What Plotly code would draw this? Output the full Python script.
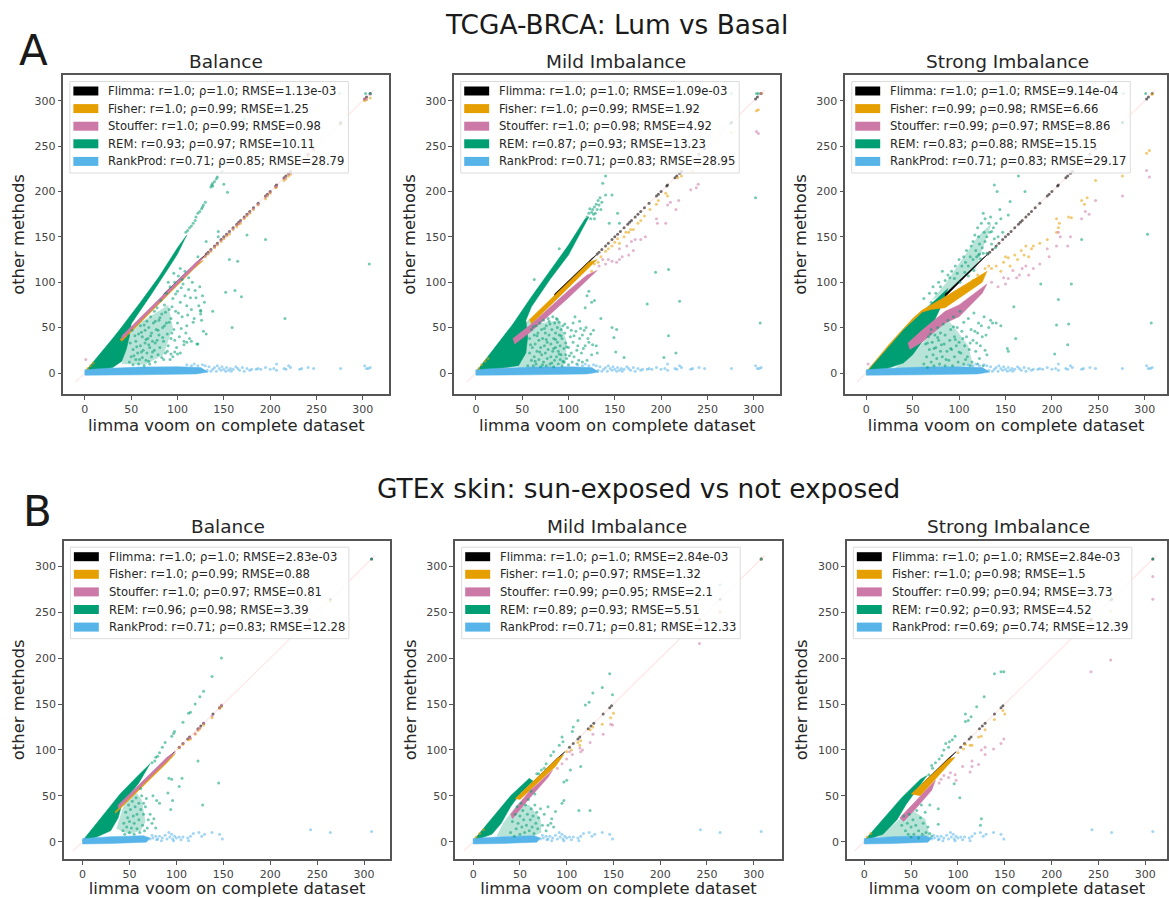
import plotly.graph_objects as go

WIDTH, HEIGHT = 1169, 898
COLORS = {"Flimma": "#000000", "Fisher": "#E69F00", "Stouffer": "#CC79A7", "REM": "#009E73", "RankProd": "#56B4E9"}
METHODS = ["Flimma", "Fisher", "Stouffer", "REM", "RankProd"]
DENSE_ORDER = ["REM", "Flimma", "Fisher", "Stouffer", "RankProd"]
X_TICKS = [0, 50, 100, 150, 200, 250, 300]
Y_TICKS = [0, 50, 100, 150, 200, 250, 300]

LEG_A1 = ["r=1.0; ρ=1.0; RMSE=1.13e-03", "r=1.0; ρ=0.99; RMSE=1.25", "r=1.0; ρ=0.99; RMSE=0.98", "r=0.93; ρ=0.97; RMSE=10.11", "r=0.71; ρ=0.85; RMSE=28.79"]
LEG_A2 = ["r=1.0; ρ=1.0; RMSE=1.09e-03", "r=1.0; ρ=0.99; RMSE=1.92", "r=1.0; ρ=0.98; RMSE=4.92", "r=0.87; ρ=0.93; RMSE=13.23", "r=0.71; ρ=0.83; RMSE=28.95"]
LEG_A3 = ["r=1.0; ρ=1.0; RMSE=9.14e-04", "r=0.99; ρ=0.98; RMSE=6.66", "r=0.99; ρ=0.97; RMSE=8.86", "r=0.83; ρ=0.88; RMSE=15.15", "r=0.71; ρ=0.83; RMSE=29.17"]
LEG_B1 = ["r=1.0; ρ=1.0; RMSE=2.83e-03", "r=1.0; ρ=0.99; RMSE=0.88", "r=1.0; ρ=0.97; RMSE=0.81", "r=0.96; ρ=0.98; RMSE=3.39", "r=0.71; ρ=0.83; RMSE=12.28"]
LEG_B2 = ["r=1.0; ρ=1.0; RMSE=2.84e-03", "r=1.0; ρ=0.97; RMSE=1.32", "r=0.99; ρ=0.95; RMSE=2.1", "r=0.89; ρ=0.93; RMSE=5.51", "r=0.71; ρ=0.81; RMSE=12.33"]
LEG_B3 = ["r=1.0; ρ=1.0; RMSE=2.84e-03", "r=1.0; ρ=0.98; RMSE=1.5", "r=0.99; ρ=0.94; RMSE=3.73", "r=0.92; ρ=0.93; RMSE=4.52", "r=0.69; ρ=0.74; RMSE=12.39"]

# ---- values: (limma voom, other method) ----
# "DENSE" = outline of an area where the dots merge into a solid mass
# "HAZE"  = outline of an area where the dots are thick but still separate
FLIMMA_A_DENSE = [(85, 84), (125, 124), (130, 130), (125, 126), (85, 87)]
FLIMMA_A = [(308, 308), (304, 304), (302, 302), (276, 276), (247, 247), (241, 241), (234, 234), (222, 222), (220, 220), (217, 217), (215, 215), (207, 207), (206, 206), (200, 200), (197, 197), (195, 195), (187, 187), (182, 182), (178, 178), (175, 175), (172, 172), (168, 168), (166, 166), (164, 164), (160, 160), (156, 156), (153, 153), (150, 150), (147, 147), (143, 143), (140, 140), (136, 136), (133, 133), (131, 131)]
RANK_A_DENSE = [(0, -2.5), (0, 3.5), (20, 5), (60, 6.5), (100, 7), (125, 6), (133, 1), (120, -1), (60, -2)]
RANK_A = [(130, 8), (132, 3), (134, 7), (136, 2), (138, 4), (140, 6), (142, 2), (143, 8), (145, 5), (147, 3), (148, 7), (150, 4), (152, 2), (153, 6), (155, 3), (157, 5), (158, 2), (160, 4), (163, 7), (165, 5), (167, 3), (170, 6), (172, 2), (175, 5), (178, 3), (180, 4), (185, 4), (187, 5), (190, 4), (195, 6), (200, 4), (204, 5), (207, 3), (207, 10), (215, 5), (217, 4), (220, 8), (222, 6), (232, 4), (234, 5), (241, 6), (247, 5), (276, 5), (302, 8), (304, 5), (306, 5), (308, 6), (110, 9), (118, 10), (122, 8), (127, 9), (115, 8)]

# A, Balance
A1_FISHER_DENSE = [(38, 37), (120, 120), (128, 124), (118, 115), (40, 35)]
A1_FISHER = [(3, 5), (6, 8), (9, 11), (308, 303), (304, 301), (302, 300), (276, 274), (247, 245), (241, 239), (234, 232), (222, 219), (220, 217), (217, 214), (215, 212), (207, 205), (206, 204), (200, 198), (197, 195), (195, 192), (187, 185), (182, 180), (178, 176), (175, 173), (172, 170), (168, 165), (166, 164), (164, 161), (160, 158), (156, 153), (153, 151), (150, 148), (147, 145), (143, 141), (140, 138), (136, 134), (133, 131), (130, 128)]
A1_STOUFFER_DENSE = [(40, 41), (120, 122), (130, 129), (120, 118), (40, 37)]
A1_STOUFFER = [(1, 15), (308, 307), (304, 302), (302, 302), (276, 275), (247, 246), (241, 240), (234, 233), (222, 221), (220, 219), (217, 216), (215, 214), (207, 206), (206, 205), (200, 199), (197, 196), (195, 194), (187, 186), (182, 181), (178, 177), (175, 174), (172, 171), (168, 167), (166, 165), (164, 163), (160, 159), (156, 155), (153, 152), (150, 149), (147, 146), (143, 142), (140, 139), (136, 135), (133, 132), (130, 129)]
A1_REM_DENSE = [(0, 1), (10, 13), (20, 26), (30, 38), (40, 51), (50, 64), (60, 78), (70, 92), (80, 106), (90, 122), (100, 138), (110, 152), (100, 131), (90, 115), (80, 99), (70, 84), (60, 69), (50, 54), (48, 40), (45, 27), (40, 13), (30, 6), (15, 3), (0, 1)]
A1_REM_HAZE = [(40, 10), (65, 9), (85, 20), (95, 50), (90, 75), (70, 62), (50, 50)]
A1_REM = [(48, 12), (50, 18), (52, 9), (52, 26), (55, 15), (55, 35), (57, 22), (58, 43), (58, 10), (60, 30), (60, 52), (62, 17), (62, 40), (63, 25), (64, 8), (65, 47), (65, 33), (66, 14), (67, 57), (67, 22), (68, 38), (69, 50), (70, 10), (70, 28), (71, 62), (72, 18), (72, 44), (73, 35), (74, 55), (75, 25), (75, 68), (76, 12), (77, 48), (78, 36), (78, 72), (79, 20), (80, 58), (80, 42), (81, 28), (82, 80), (83, 65), (84, 50), (85, 35), (85, 15), (86, 75), (87, 22), (88, 55), (88, 88), (89, 43), (90, 30), (91, 70), (92, 95), (93, 60), (93, 38), (95, 18), (95, 82), (96, 48), (97, 100), (98, 68), (99, 28), (100, 90), (100, 55), (101, 107), (102, 40), (103, 78), (103, 22), (105, 62), (106, 98), (107, 35), (108, 85), (110, 52), (110, 74), (112, 92), (113, 38), (115, 70), (116, 100), (118, 60), (120, 83), (122, 32), (124, 95), (125, 68), (127, 85), (129, 78), (110, 34), (107, 31), (100, 21), (97, 23), (93, 21), (92, 15), (115, 35),
          (109, 155), (111, 157), (113, 160), (115, 162), (117, 165), (119, 168), (120, 172), (122, 176), (124, 178), (126, 181), (127, 183), (128, 185), (130, 188), (136, 205), (137, 207), (138, 206), (138, 209), (140, 211), (142, 214), (143, 216), (148, 222), (153, 231), (158, 238), (150, 208), (154, 199), (165, 235), (172, 280), (275, 308), (276, 275), (308, 308), (303, 308), (156, 125), (165, 123), (195, 147), (175, 152), (144, 156), (144, 150), (162, 91), (152, 89), (169, 84), (159, 50), (216, 60), (125, 69), (125, 65), (138, 68), (121, 32), (128, 46), (131, 43), (307, 120), (131, 145), (122, 128),
          (47, 41), (49, 33), (51, 47), (53, 19), (54, 41), (56, 29), (59, 15), (61, 45), (61, 23), (64, 53), (66, 37), (69, 13), (69, 31), (71, 41), (73, 23), (76, 57), (76, 33), (79, 47), (81, 61), (83, 17), (84, 39), (86, 52), (87, 67), (89, 24), (91, 56), (94, 44), (94, 73), (97, 36), (98, 87), (101, 66), (104, 49), (104, 94), (109, 44), (111, 64), (114, 83), (117, 56), (119, 91), (123, 74), (126, 58), (112, 105), (108, 112), (105, 103), (103, 115), (96, 110), (90, 100)]

# A, Mild imbalance
A2_FISHER_DENSE = [(58, 59), (122, 122), (131, 125), (118, 112), (100, 93), (60, 54)]
A2_FISHER = [(3, 5), (6, 9), (10, 13), (13, 16), (135, 128), (140, 134), (143, 137), (147, 140), (150, 144), (153, 148), (155, 143), (160, 150), (162, 155), (165, 155), (167, 158), (170, 158), (175, 165), (178, 168), (182, 173), (188, 180), (195, 186), (197, 190), (205, 198), (207, 195), (218, 215), (222, 217), (234, 222), (240, 230), (276, 265), (303, 289), (305, 290), (308, 308), (128, 120), (132, 122), (125, 112)]
A2_STOUFFER_DENSE = [(40, 38), (60, 54), (100, 91), (120, 108), (131, 113), (118, 100), (100, 83), (60, 46), (42, 32)]
A2_STOUFFER = [(133, 118), (137, 125), (140, 120), (143, 125), (147, 123), (152, 122), (155, 125), (158, 128), (163, 140), (168, 145), (172, 147), (178, 147), (183, 150), (155, 137), (165, 130), (170, 135), (195, 170), (196, 165), (205, 165), (207, 185), (210, 188), (219, 190), (216, 180), (232, 202), (238, 204), (240, 208), (303, 266), (305, 264), (308, 308)]
A2_REM_DENSE = [(0, 1), (20, 27), (40, 54), (60, 84), (80, 112), (100, 141), (118, 170), (122, 172), (100, 130), (80, 103), (60, 73), (54, 58), (56, 40), (54, 22), (46, 8), (20, 4), (0, 1)]
A2_REM_HAZE = [(45, 6), (80, 6), (97, 10), (98, 35), (90, 58), (72, 55), (58, 60), (50, 50)]
A2_REM = [(307, 55), (302, 193), (208, 114), (194, 111), (185, 76), (220, 79), (208, 41), (216, 22), (203, 17), (147, 50), (152, 48), (149, 39), (151, 23), (160, 17), (153, 176), (144, 165), (155, 165), (90, 137), (63, 103), (140, 196), (147, 196), (137, 209), (140, 217), (120, 172), (122, 176), (124, 170), (126, 180), (127, 175), (128, 183), (129, 176), (130, 186), (131, 180), (132, 190), (133, 185), (134, 193), (135, 180), (136, 188), (125, 177), (128, 170), (123, 181), (275, 275), (303, 308), (305, 308), (276, 308), (171, 250),
          (56, 8), (58, 22), (58, 38), (60, 14), (60, 48), (61, 28), (62, 8), (63, 42), (63, 18), (64, 32), (65, 52), (65, 10), (66, 24), (67, 44), (68, 15), (68, 36), (69, 55), (70, 7), (70, 28), (71, 20), (71, 48), (72, 38), (73, 12), (73, 58), (74, 30), (75, 44), (75, 22), (76, 8), (76, 52), (77, 34), (77, 16), (78, 60), (78, 26), (79, 42), (80, 10), (80, 54), (81, 32), (81, 18), (82, 48), (83, 24), (83, 62), (84, 38), (84, 7), (85, 55), (85, 14), (86, 44), (86, 28), (87, 60), (87, 18), (88, 34), (88, 50), (89, 10), (89, 24), (90, 42), (90, 56), (91, 30), (91, 15), (92, 48), (92, 20), (93, 38), (93, 8), (94, 52), (95, 27), (95, 12), (96, 44), (97, 20), (97, 33), (98, 16), (99, 50), (100, 28), (100, 9), (102, 40), (103, 22), (104, 12), (105, 34), (106, 18), (108, 46), (110, 30), (111, 14), (112, 38), (114, 22), (115, 42), (117, 47), (118, 30), (120, 14), (122, 34), (124, 43), (127, 47), (119, 50), (125, 20), (115, 12), (109, 10), (130, 30), (112, 57), (105, 55), (107, 62), (120, 85), (122, 90), (125, 78), (128, 80), (118, 72), (135, 60),
          (59, 31), (62, 51), (64, 13), (66, 41), (69, 23), (72, 9), (74, 49), (76, 37), (79, 57), (82, 11), (84, 27), (86, 37), (88, 59), (90, 21), (92, 41), (94, 13), (96, 54), (98, 29), (101, 19), (103, 47), (106, 41), (109, 25), (113, 49), (116, 27), (121, 38), (126, 31), (131, 22)]

# A, Strong imbalance
A3_FISHER_DENSE = [(0, 1), (25, 32), (50, 60), (60, 69), (85, 84), (130, 112), (125, 100), (85, 72), (70, 70), (60, 67), (40, 48), (20, 25)]
A3_FISHER = [(135, 115), (140, 118), (145, 112), (148, 122), (150, 128), (153, 127), (155, 118), (160, 130), (163, 125), (167, 135), (170, 130), (172, 140), (175, 128), (178, 137), (180, 140), (187, 143), (195, 147), (205, 155), (207, 160), (205, 170), (208, 165), (218, 172), (221, 171), (232, 190), (235, 186), (238, 193), (247, 212), (276, 217), (302, 242), (305, 245), (308, 307), (132, 118), (128, 115), (120, 108), (115, 102)]
A3_STOUFFER_DENSE = [(45, 33), (60, 47), (85, 68), (100, 75), (130, 98), (125, 88), (100, 62), (85, 55), (60, 34), (47, 26)]
A3_STOUFFER = [(2, 10), (135, 100), (142, 95), (148, 105), (150, 98), (153, 104), (158, 113), (162, 105), (165, 108), (168, 115), (172, 118), (175, 108), (180, 115), (187, 120), (195, 137), (197, 128), (205, 140), (207, 155), (209, 150), (217, 140), (220, 150), (232, 170), (236, 178), (240, 175), (247, 190), (276, 195), (302, 223), (305, 216)]
A3_REM_DENSE = [(0, 1), (20, 25), (40, 48), (60, 67), (75, 81), (88, 93), (80, 72), (70, 50), (60, 34), (50, 20), (40, 11), (20, 4), (0, 1)]
A3_REM_HAZE = [(30, 5), (80, 6), (115, 8), (110, 30), (95, 50), (85, 62), (70, 45), (50, 20)]
A3_REM_HAZE_TOP = [(70, 80), (85, 98), (120, 150), (135, 165), (118, 115), (95, 97), (82, 86)]
A3_REM = [(307, 55), (303, 153), (221, 98), (188, 98), (207, 81), (159, 73), (205, 53), (218, 54), (217, 31), (203, 21), (232, 147), (164, 217), (171, 200), (138, 207), (141, 200), (155, 189), (153, 174), (144, 180), (126, 176), (135, 156), (121, 150), (152, 27), (153, 24), (161, 38), (276, 276), (301, 308), (277, 308),
          (100, 125), (103, 118), (105, 128), (107, 122), (108, 135), (110, 118), (112, 128), (113, 140), (115, 125), (115, 145), (118, 135), (119, 128), (120, 160), (121, 130), (122, 142), (123, 126), (124, 165), (125, 138), (126, 132), (127, 155), (128, 170), (128, 145), (130, 150), (130, 132), (132, 165), (133, 155), (134, 172), (135, 142), (137, 160), (138, 148), (140, 165), (142, 150), (145, 170), (147, 155), (96, 118), (92, 112), (88, 108), (85, 102), (82, 112), (78, 100), (72, 95), (75, 88), (68, 88), (62, 82), (70, 78), (80, 95), (90, 105), (98, 110),
          (62, 10), (64, 32), (65, 18), (66, 6), (67, 40), (68, 26), (70, 12), (70, 48), (71, 34), (72, 20), (73, 8), (74, 42), (75, 28), (76, 16), (77, 50), (78, 36), (79, 10), (80, 24), (80, 44), (82, 18), (83, 54), (84, 32), (85, 8), (85, 42), (87, 24), (88, 58), (89, 14), (90, 36), (91, 48), (92, 26), (93, 8), (94, 62), (95, 18), (95, 40), (97, 30), (98, 50), (99, 12), (100, 34), (101, 68), (102, 22), (103, 46), (105, 10), (105, 56), (106, 30), (108, 40), (109, 18), (110, 60), (111, 26), (113, 48), (114, 12), (115, 36), (116, 66), (118, 24), (120, 44), (121, 55), (122, 16), (123, 30), (125, 40), (127, 62), (128, 25), (130, 20), (132, 50), (134, 58), (136, 55), (140, 55), (145, 52), (120, 10), (112, 8), (126, 8),
          (66, 33), (69, 43), (73, 27), (77, 39), (81, 31), (86, 15), (91, 27), (94, 51), (96, 37), (100, 23), (104, 38), (107, 15), (112, 33), (117, 46), (119, 33), (124, 52), (129, 42), (110, 107), (106, 111), (116, 113), (101, 100), (95, 104), (139, 138), (117, 152), (122, 131)]

# Shared across the GTEx panels
FLIMMA_B_DENSE = [(62, 61), (90, 89), (98, 98), (90, 91), (62, 63)]
FLIMMA_B = [(308, 308), (264, 264), (242, 242), (148, 148), (146, 146), (139, 139), (129, 129), (126, 126), (123, 123), (114, 114), (112, 112), (107, 107), (103, 103)]
RANK_B_DENSE = [(0, -2.5), (0, 3.5), (30, 5.5), (65, 6.5), (72, 4), (68, -0.5), (30, -2)]
RANK_B = [(72, 3), (75, 4), (78, 6), (80, 3), (82, 6), (85, 4), (88, 7), (90, 3), (93, 5), (95, 8), (96, 3), (98, 6), (100, 4), (103, 5), (107, 5), (112, 4), (113, 1), (115, 6), (118, 9), (124, 10), (127, 6), (130, 8), (138, 10), (146, 8), (149, 3), (243, 13), (264, 10), (308, 11), (74, 7), (79, 2), (84, 1), (92, 10), (97, 1), (105, 2)]

# B, Balance
B1_FISHER_DENSE = [(35, 33), (90, 90), (99, 96), (90, 86), (35, 31)]
B1_FISHER = [(103, 102), (107, 106), (113, 111), (115, 112), (120, 117), (123, 121), (125, 123), (129, 127), (138, 135), (146, 145), (148, 147), (264, 262), (242, 240)]
B1_STOUFFER_DENSE = [(38, 40), (90, 92), (99, 98), (90, 88), (38, 36)]
B1_STOUFFER = [(103, 103), (107, 107), (113, 113), (115, 113), (120, 118), (123, 122), (125, 124), (129, 129), (138, 137), (146, 146), (148, 149)]
B1_REM_DENSE = [(0, 1), (20, 26), (40, 52), (60, 73), (72, 85), (60, 64), (42, 41), (38, 26), (30, 12), (15, 5), (0, 1)]
B1_REM_HAZE = [(36, 14), (50, 8), (62, 12), (67, 22), (63, 46), (56, 55), (44, 40)]
B1_REM = [(148, 200), (138, 180), (129, 164), (125, 158), (120, 150), (115, 141), (113, 140), (107, 130), (97, 118), (95, 115), (98, 120), (88, 108), (85, 103), (82, 97), (78, 92), (123, 88), (145, 64), (128, 40), (106, 69), (92, 69), (95, 68), (96, 45), (91, 53), (103, 60), (94, 35), (79, 45), (82, 42), (75, 50), (65, 42), (70, 24), (308, 308),
          (43, 12), (44, 20), (45, 8), (46, 32), (47, 16), (48, 26), (49, 40), (50, 10), (50, 22), (51, 35), (52, 15), (53, 44), (54, 28), (55, 8), (55, 20), (56, 38), (57, 48), (58, 14), (58, 30), (60, 24), (60, 42), (61, 10), (62, 35), (63, 50), (64, 18), (65, 30), (66, 12), (67, 38), (68, 47), (69, 15), (72, 30), (74, 20), (76, 25), (78, 15), (62, 58), (74, 86), (77, 88), (80, 93)]

# B, Mild imbalance
B2_FISHER_DENSE = [(45, 47), (90, 91), (97, 95), (88, 82), (50, 46)]
B2_FISHER = [(3, 5), (7, 9), (11, 13), (100, 98), (105, 100), (112, 108), (114, 105), (115, 110), (125, 122), (128, 125), (138, 128), (147, 135), (150, 140), (264, 250), (308, 308)]
B2_STOUFFER_DENSE = [(40, 30), (60, 55), (70, 64), (85, 78), (80, 70), (60, 47), (42, 25)]
B2_STOUFFER = [(90, 80), (95, 85), (100, 90), (103, 98), (106, 95), (114, 102), (115, 98), (117, 100), (125, 108), (128, 117), (139, 117), (147, 128), (149, 127), (242, 216), (264, 251), (308, 308)]
B2_REM_DENSE = [(0, 1), (20, 26), (40, 50), (60, 69), (64, 66), (50, 52), (40, 38), (30, 20), (20, 8), (0, 1)]
B2_REM_HAZE = [(25, 6), (65, 6), (73, 10), (72, 25), (60, 40), (48, 42), (32, 20)]
B2_REM = [(146, 183), (138, 168), (128, 162), (149, 160), (124, 152), (120, 149), (112, 132), (107, 125), (106, 120), (95, 114), (96, 109), (92, 105), (86, 98), (83, 94), (78, 85), (70, 74), (115, 82), (104, 78), (97, 65), (100, 67), (95, 42), (97, 45), (113, 34), (125, 34), (80, 38), (88, 33), (83, 20), (308, 308), (264, 280),
           (40, 10), (42, 22), (44, 6), (45, 30), (46, 14), (47, 38), (48, 20), (50, 8), (50, 28), (51, 42), (52, 16), (53, 34), (54, 24), (55, 10), (56, 40), (57, 18), (58, 30), (59, 46), (60, 12), (61, 24), (62, 36), (63, 16), (64, 28), (65, 9), (66, 40), (67, 20), (68, 32), (69, 14), (70, 26), (72, 36), (74, 18), (76, 30), (78, 12), (80, 18), (84, 25), (86, 16), (66, 52), (62, 55), (68, 74), (73, 78), (76, 80)]

# B, Strong imbalance
B3_FISHER_DENSE = [(50, 52), (90, 90), (97, 92), (85, 78), (60, 50)]
B3_FISHER = [(3, 5), (7, 9), (100, 97), (106, 101), (108, 106), (113, 105), (115, 105), (122, 114), (125, 115), (129, 122), (139, 133), (148, 143), (150, 139), (263, 251), (242, 241)]
B3_STOUFFER_DENSE = [(38, 26), (55, 44), (76, 67), (72, 56), (55, 36), (42, 22)]
B3_STOUFFER = [(85, 72), (80, 64), (82, 68), (90, 70), (92, 75), (97, 73), (98, 67), (105, 82), (113, 76), (115, 82), (115, 88), (122, 84), (125, 100), (129, 95), (129, 103), (138, 101), (146, 107), (149, 112), (242, 185), (263, 198), (308, 264), (308, 289)]
B3_REM_DENSE = [(0, 1), (20, 25), (40, 48), (60, 68), (67, 72), (55, 55), (45, 41), (35, 24), (20, 8), (0, 1)]
B3_REM_HAZE = [(15, 5), (45, 5), (70, 6), (65, 25), (50, 35), (35, 22)]
B3_REM = [(149, 185), (146, 185), (139, 183), (128, 158), (120, 147), (108, 139), (114, 136), (111, 132), (108, 131), (97, 115), (94, 111), (87, 107), (83, 94), (72, 83), (69, 73), (96, 63), (102, 48), (125, 25), (124, 18), (79, 36), (79, 19), (61, 40), (70, 40), (308, 308), (263, 263),
           (40, 18), (42, 28), (44, 12), (46, 20), (47, 8), (48, 30), (50, 16), (52, 24), (53, 8), (55, 18), (56, 34), (58, 12), (60, 26), (62, 8), (63, 20), (65, 32), (66, 10), (68, 16), (70, 9), (72, 6), (58, 4), (50, 5), (73, 80), (76, 86), (80, 90), (90, 103), (91, 109), (85, 100)]

PANELS = [
    {"title": "Balance", "tx": 226, "ty": 61, "left": 63.5, "right": 390, "top": 75, "bottom": 394, "x0": 85.0, "x300": 363.4, "y0": 373.0, "y300": 100.7, "leg": LEG_A1, "standoff": 3,
     "dense": dict(zip(METHODS, [FLIMMA_A_DENSE, A1_FISHER_DENSE, A1_STOUFFER_DENSE, A1_REM_DENSE, RANK_A_DENSE])), "haze": [A1_REM_HAZE], "points": [FLIMMA_A, A1_FISHER, A1_STOUFFER, A1_REM, RANK_A]},
    {"title": "Mild Imbalance", "tx": 617, "ty": 61, "left": 455, "right": 781.5, "top": 75, "bottom": 394, "x0": 476.7, "x300": 755.0, "y0": 373.0, "y300": 100.7, "leg": LEG_A2, "standoff": 3,
     "dense": dict(zip(METHODS, [FLIMMA_A_DENSE, A2_FISHER_DENSE, A2_STOUFFER_DENSE, A2_REM_DENSE, RANK_A_DENSE])), "haze": [A2_REM_HAZE], "points": [FLIMMA_A, A2_FISHER, A2_STOUFFER, A2_REM, RANK_A]},
    {"title": "Strong Imbalance", "tx": 1009, "ty": 61, "left": 846.7, "right": 1169, "top": 75, "bottom": 394, "x0": 867.7, "x300": 1146.7, "y0": 373.0, "y300": 100.7, "leg": LEG_A3, "standoff": 3,
     "dense": dict(zip(METHODS, [FLIMMA_A_DENSE, A3_FISHER_DENSE, A3_STOUFFER_DENSE, A3_REM_DENSE, RANK_A_DENSE])), "haze": [A3_REM_HAZE, A3_REM_HAZE_TOP], "points": [FLIMMA_A, A3_FISHER, A3_STOUFFER, A3_REM, RANK_A]},
    {"title": "Balance", "tx": 228, "ty": 526, "left": 64, "right": 391, "top": 540.7, "bottom": 859, "x0": 82.7, "x300": 364.7, "y0": 841.7, "y300": 566.3, "leg": LEG_B1, "standoff": 6,
     "dense": dict(zip(METHODS, [FLIMMA_B_DENSE, B1_FISHER_DENSE, B1_STOUFFER_DENSE, B1_REM_DENSE, RANK_B_DENSE])), "haze": [B1_REM_HAZE], "points": [FLIMMA_B, B1_FISHER, B1_STOUFFER, B1_REM, RANK_B]},
    {"title": "Mild Imbalance", "tx": 618, "ty": 526, "left": 456, "right": 783, "top": 540.7, "bottom": 859, "x0": 474.0, "x300": 755.0, "y0": 841.7, "y300": 566.3, "leg": LEG_B2, "standoff": 6,
     "dense": dict(zip(METHODS, [FLIMMA_B_DENSE, B2_FISHER_DENSE, B2_STOUFFER_DENSE, B2_REM_DENSE, RANK_B_DENSE])), "haze": [B2_REM_HAZE], "points": [FLIMMA_B, B2_FISHER, B2_STOUFFER, B2_REM, RANK_B]},
    {"title": "Strong Imbalance", "tx": 1010, "ty": 526, "left": 848.3, "right": 1169, "top": 540.7, "bottom": 859, "x0": 865.7, "x300": 1147.3, "y0": 841.7, "y300": 566.3, "leg": LEG_B3, "standoff": 6,
     "dense": dict(zip(METHODS, [FLIMMA_B_DENSE, B3_FISHER_DENSE, B3_STOUFFER_DENSE, B3_REM_DENSE, RANK_B_DENSE])), "haze": [B3_REM_HAZE], "points": [FLIMMA_B, B3_FISHER, B3_STOUFFER, B3_REM, RANK_B]},
]
DIAGONAL = [-10, 312]

TEXT = "#262626"
FONT = "DejaVu Sans"
fig = go.Figure()
annotations, shapes = [], []
layout = dict(width=WIDTH, height=HEIGHT, margin=dict(l=0, r=0, t=0, b=0), paper_bgcolor="white", plot_bgcolor="white",
              font=dict(family=FONT, color=TEXT), showlegend=False)


def polygon_xy(vertices):
    return [v[0] for v in vertices] + [vertices[0][0]], [v[1] for v in vertices] + [vertices[0][1]]


def px(x):
    return x / WIDTH


def py(y):
    return 1 - y / HEIGHT


def paper_rect(x0, y0, x1, y1, fill, line="rgba(0,0,0,0)", width=0):
    shapes.append(dict(type="rect", xref="paper", yref="paper", x0=px(x0), x1=px(x1), y0=py(y1), y1=py(y0),
                       fillcolor=fill, line=dict(color=line, width=width), layer="above"))


for i, p in enumerate(PANELS):
    n = "" if i == 0 else str(i + 1)
    xa, ya = "x" + n, "y" + n
    sx = (p["x300"] - p["x0"]) / 300
    sy = (p["y0"] - p["y300"]) / 300
    layout["xaxis" + n] = dict(domain=[px(p["left"]), px(p["right"])], anchor=ya,
                               range=[(p["left"] - p["x0"]) / sx, (p["right"] - p["x0"]) / sx],
                               tickvals=X_TICKS, ticks="outside", ticklen=4, tickwidth=1, tickcolor="#555",
                               tickfont=dict(size=11, color="#444"), showgrid=False, zeroline=False,
                               showline=True, mirror=True, linecolor="#555", linewidth=1.5,
                               title=dict(text="limma voom on complete dataset", font=dict(size=16.4, color=TEXT), standoff=p["standoff"]))
    layout["yaxis" + n] = dict(domain=[py(p["bottom"]), py(p["top"])], anchor=xa,
                               range=[(p["y0"] - p["bottom"]) / sy, (p["y0"] - p["top"]) / sy],
                               tickvals=Y_TICKS, ticks="outside", ticklen=4, tickwidth=1, tickcolor="#555",
                               tickfont=dict(size=11, color="#444"), showgrid=False, zeroline=False,
                               showline=True, mirror=True, linecolor="#555", linewidth=1.5,
                               title=dict(text="other methods", font=dict(size=16.4, color=TEXT), standoff=6))
    annotations.append(dict(text=p["title"], x=px(p["tx"]), y=py(p["ty"]), xref="paper", yref="paper",
                            xanchor="center", yanchor="middle", showarrow=False, font=dict(size=18.5, color=TEXT)))
    fig.add_trace(go.Scatter(x=DIAGONAL, y=DIAGONAL, mode="lines", line=dict(color="rgba(255,0,0,0.1)", width=1.2),
                             xaxis=xa, yaxis=ya, hoverinfo="skip"))
    for haze in p["haze"]:
        hx, hy = polygon_xy(haze)
        fig.add_trace(go.Scatter(x=hx, y=hy, mode="lines", fill="toself", fillcolor="rgba(0,158,115,0.28)",
                                 line=dict(width=0), xaxis=xa, yaxis=ya, hoverinfo="skip"))
    for method in DENSE_ORDER:
        dx, dy = polygon_xy(p["dense"][method])
        fig.add_trace(go.Scatter(x=dx, y=dy, mode="lines", fill="toself", fillcolor=COLORS[method],
                                 line=dict(color=COLORS[method], width=0.5), xaxis=xa, yaxis=ya, hoverinfo="skip"))
    for m, method in enumerate(METHODS):
        pts = p["points"][m]
        fig.add_trace(go.Scatter(x=[q[0] for q in pts], y=[q[1] for q in pts], mode="markers",
                                 marker=dict(color=COLORS[method], size=3, opacity=0.55, line=dict(width=0)),
                                 xaxis=xa, yaxis=ya, name=method))
    # legend box, placed relative to the axes frame as in the reference
    paper_rect(p["left"] + 6.5, p["top"] + 6.5, p["left"] + 285.5, p["top"] + 98, "rgba(255,255,255,0.8)", "#dcdcdc", 1)
    for m, method in enumerate(METHODS):
        rowy = p["top"] + 16 + 17.6 * m
        paper_rect(p["left"] + 10, rowy - 4.5, p["left"] + 35, rowy + 4.5, COLORS[method])
        annotations.append(dict(text=f"{method}: {p['leg'][m]}", x=px(p["left"] + 43), y=py(rowy), xref="paper", yref="paper",
                                xanchor="left", yanchor="middle", showarrow=False, font=dict(size=11.6, color="#262626")))

for text, x, y, size in [("TCGA-BRCA: Lum vs Basal", 618, 25, 26.4), ("GTEx skin: sun-exposed vs not exposed", 640, 488, 26.4),
                         ("A", 34, 50, 42), ("B", 38, 511, 42)]:
    annotations.append(dict(text=text, x=px(x), y=py(y), xref="paper", yref="paper", xanchor="center",
                            yanchor="middle", showarrow=False, font=dict(size=size, color="#1a1a1a")))

layout["annotations"] = annotations
layout["shapes"] = shapes
fig.update_layout(**layout)
fig.write_html("out.html", config={"displayModeBar": False},
               post_script="document.body.style.margin='0';document.body.style.overflow='hidden';")
